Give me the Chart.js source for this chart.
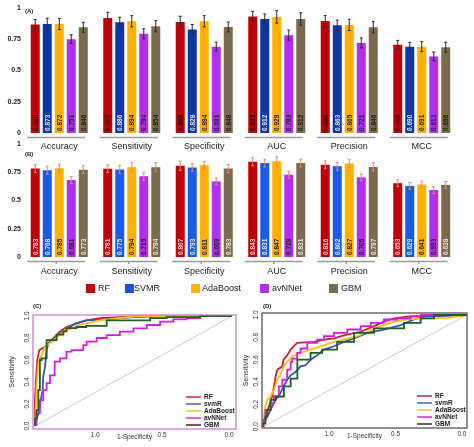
<!DOCTYPE html>
<html><head><meta charset="utf-8">
<script src="https://cdn.jsdelivr.net/npm/chart.js@4.4.0/dist/chart.umd.min.js"></script>
<style>
html,body{margin:0;padding:0;background:#fff;}
#wrap{position:relative;width:474px;height:447px;overflow:hidden;font-family:"Liberation Sans",Arial,sans-serif;color:#222;}
canvas{position:absolute;}
.pl{position:absolute;font-size:6px;font-weight:bold;color:#222;line-height:6px;}
.sq{position:absolute;width:9px;height:9px;top:284px;}
.lt{position:absolute;top:283px;font-size:9px;line-height:11px;color:#222;}
</style></head><body>
<div id="wrap">
  <canvas id="cA" width="474" height="152" style="left:0;top:0"></canvas>
  <canvas id="cB" width="474" height="143" style="left:0;top:136px"></canvas>
  <canvas id="cC" width="237" height="149" style="left:0;top:298px"></canvas>
  <canvas id="cD" width="237" height="149" style="left:237px;top:298px"></canvas>
  <div class="pl" style="left:25px;top:8px">(A)</div>
  <div class="pl" style="left:25px;top:151px">(B)</div>
  <div class="pl" style="left:33px;top:303px">(C)</div>
  <div class="pl" style="left:263px;top:303px">(D)</div>
  <div id="legend"></div>
</div>
<script>
// ---------- DATA ----------
const categories = ['Accuracy','Sensitivity','Specificity','AUC','Precision','MCC'];
const models = ['RF','SVMR','AdaBoost','avNNet','GBM'];
const barYTicks = [0, 0.25, 0.5, 0.75, 1];
const barYTickLabels = ['0', '0.25', '0.5', '0.75', '1'];

// Panel A values
const A_RF       = [0.868, 0.921, 0.889, 0.933, 0.896, 0.706];
const A_SVMR     = [0.873, 0.886, 0.828, 0.912, 0.863, 0.690];
const A_AdaBoost = [0.872, 0.894, 0.894, 0.929, 0.865, 0.691];
const A_avNNet   = [0.751, 0.794, 0.691, 0.783, 0.721, 0.613];
const A_GBM      = [0.846, 0.854, 0.848, 0.912, 0.846, 0.686];
// Panel A error bars
const A_RF_err       = [0.040, 0.045, 0.045, 0.040, 0.045, 0.035];
const A_SVMR_err     = [0.045, 0.040, 0.040, 0.040, 0.040, 0.035];
const A_AdaBoost_err = [0.045, 0.045, 0.045, 0.050, 0.045, 0.040];
const A_avNNet_err   = [0.035, 0.040, 0.035, 0.040, 0.040, 0.035];
const A_GBM_err      = [0.040, 0.045, 0.040, 0.050, 0.045, 0.040];

// Panel B values
const B_RF       = [0.783, 0.781, 0.807, 0.843, 0.816, 0.653];
const B_SVMR     = [0.768, 0.775, 0.793, 0.831, 0.802, 0.629];
const B_AdaBoost = [0.785, 0.794, 0.811, 0.847, 0.827, 0.641];
const B_avNNet   = [0.681, 0.715, 0.669, 0.728, 0.705, 0.593];
const B_GBM      = [0.773, 0.794, 0.783, 0.831, 0.797, 0.638];
// Panel B error bars
const B_RF_err       = [0.035, 0.035, 0.040, 0.035, 0.035, 0.030];
const B_SVMR_err     = [0.035, 0.035, 0.035, 0.035, 0.035, 0.030];
const B_AdaBoost_err = [0.035, 0.040, 0.035, 0.040, 0.035, 0.030];
const B_avNNet_err   = [0.030, 0.035, 0.030, 0.030, 0.030, 0.030];
const B_GBM_err      = [0.035, 0.040, 0.035, 0.035, 0.035, 0.030];

// ROC curves: [1-specificity, sensitivity]
const rocLabels = ['RF','svmR','AdaBoost','avNNet','GBM'];
const rocXTicks = [0, 0.5, 1.0];
const rocYTicks = [0, 0.2, 0.4, 0.6, 0.8, 1.0];

const C_RF = [[0,0],[0,0.236],[0.005,0.418],[0.012,0.60],[0.022,0.69],[0.051,0.72],[0.076,0.77],[0.10,0.81],[0.127,0.86],[0.16,0.90],[0.21,0.93],[0.26,0.96],[0.33,0.98],[0.55,1.0],[1,1]];
const C_svmR = [[0,0],[0.012,0.085],[0.022,0.145],[0.029,0.236],[0.039,0.327],[0.042,0.45],[0.051,0.54],[0.059,0.69],[0.068,0.75],[0.10,0.80],[0.127,0.84],[0.16,0.87],[0.20,0.93],[0.26,0.96],[0.36,0.97],[0.50,0.99],[0.67,1.0],[1,1]];
const C_AdaBoost = [[0,0],[0.008,0.36],[0.017,0.58],[0.034,0.645],[0.051,0.72],[0.093,0.78],[0.127,0.83],[0.16,0.87],[0.228,0.92],[0.33,0.96],[0.52,1.0],[1,1]];
const C_avNNet = [[0,0],[0.008,0.01],[0.025,0.115],[0.042,0.236],[0.059,0.327],[0.076,0.39],[0.10,0.46],[0.127,0.585],[0.16,0.615],[0.186,0.676],[0.245,0.69],[0.262,0.736],[0.313,0.767],[0.364,0.80],[0.431,0.827],[0.50,0.858],[0.567,0.888],[0.635,0.918],[0.702,0.948],[0.77,0.97],[0.838,0.98],[0.838,1.0],[1,1]];
const C_GBM = [[0,0],[0.008,0.07],[0.017,0.145],[0.025,0.327],[0.034,0.60],[0.059,0.615],[0.059,0.75],[0.11,0.78],[0.144,0.83],[0.16,0.86],[0.21,0.89],[0.26,0.90],[0.364,0.91],[0.364,0.95],[0.584,0.96],[0.668,0.98],[0.838,0.99],[1,1]];

const D_RF = [[0,0],[0.011,0.09],[0.028,0.18],[0.044,0.27],[0.053,0.36],[0.061,0.45],[0.069,0.51],[0.094,0.54],[0.10,0.60],[0.118,0.64],[0.135,0.69],[0.15,0.72],[0.167,0.75],[0.25,0.76],[0.30,0.78],[0.35,0.79],[0.40,0.82],[0.48,0.85],[0.545,0.90],[0.594,0.94],[0.644,0.97],[0.71,0.985],[0.84,0.99],[1,1]];
const D_svmR = [[0,0],[0.011,0.06],[0.028,0.12],[0.044,0.18],[0.061,0.24],[0.085,0.30],[0.10,0.36],[0.118,0.42],[0.135,0.46],[0.159,0.49],[0.184,0.54],[0.209,0.55],[0.233,0.60],[0.266,0.64],[0.299,0.69],[0.348,0.72],[0.397,0.76],[0.447,0.79],[0.512,0.84],[0.594,0.87],[0.677,0.91],[0.742,0.96],[0.808,0.99],[1,1]];
const D_AdaBoost = [[0,0],[0.003,0.09],[0.011,0.19],[0.02,0.24],[0.036,0.27],[0.053,0.33],[0.069,0.42],[0.085,0.46],[0.10,0.54],[0.118,0.58],[0.143,0.63],[0.184,0.66],[0.233,0.69],[0.283,0.72],[0.332,0.75],[0.397,0.78],[0.463,0.81],[0.512,0.85],[0.578,0.90],[0.644,0.94],[0.71,0.96],[0.81,0.97],[0.91,0.975],[1,1]];
const D_avNNet = [[0,0],[0.011,0.06],[0.036,0.15],[0.053,0.21],[0.077,0.27],[0.094,0.36],[0.118,0.42],[0.135,0.51],[0.143,0.58],[0.167,0.61],[0.184,0.66],[0.217,0.70],[0.266,0.75],[0.299,0.78],[0.348,0.81],[0.414,0.84],[0.48,0.87],[0.529,0.90],[0.594,0.93],[0.66,0.96],[0.726,0.97],[0.775,0.99],[1,1]];
const D_GBM = [[0,0],[0.011,0.03],[0.02,0.09],[0.036,0.15],[0.061,0.24],[0.069,0.27],[0.102,0.27],[0.118,0.36],[0.135,0.36],[0.143,0.43],[0.168,0.43],[0.176,0.60],[0.233,0.60],[0.233,0.66],[0.29,0.66],[0.29,0.69],[0.364,0.69],[0.364,0.76],[0.447,0.76],[0.447,0.84],[0.545,0.84],[0.545,0.88],[0.693,0.88],[0.693,0.93],[0.775,0.93],[0.775,0.97],[0.841,0.97],[0.841,0.99],[1,1]];

// ---------- STYLE ----------
const FONT = '"Liberation Sans", Arial, sans-serif';
const colorsA = ['#c00008','#0f36a8','#ffb000','#b22ef0','#7b6a50'];
const colorsB = ['#c00008','#1a5ae8','#ffb000','#b22ef0','#7b6a50'];
const labelColA = ['#2a0000','#dde6ff','#222','#222','#1e1a10'];
const labelColB = ['#ffd6d6','#e4eeff','#222','#222','#efe6d6'];
const legendColors = ['#c00010','#1a4fe0','#ffb300','#b030f0','#7a6a4e'];
const rocColors = ['#cc1f33','#3552bf','#ffbf10','#d41fe0','#1f5f1f'];
const rocLegendColors = ['#c0305a','#5a6ab0','#f8c840','#d040d0','#5a3020'];

// ---------- BAR PANELS ----------
const barDecor = {
  id: 'barDecor',
  afterDatasetsDraw(chart, args, opts) {
    const {ctx, chartArea} = chart;
    const ys = chart.scales.y, xs = chart.scales.x;
    chart.data.datasets.forEach((ds, di) => {
      const meta = chart.getDatasetMeta(di);
      meta.data.forEach((bar, i) => {
        const v = ds.data[i], e = ds.errors[i];
        const yT = ys.getPixelForValue(v + e), yB = ys.getPixelForValue(v - e);
        ctx.save();
        ctx.strokeStyle = opts.errColor; ctx.lineWidth = 1;
        ctx.beginPath();
        ctx.moveTo(bar.x, yT); ctx.lineTo(bar.x, yB);
        ctx.moveTo(bar.x - 1.5, yT); ctx.lineTo(bar.x + 1.5, yT);
        ctx.moveTo(bar.x - 1.5, yB); ctx.lineTo(bar.x + 1.5, yB);
        ctx.stroke();
        ctx.translate(bar.x, chartArea.bottom - 2);
        ctx.rotate(-Math.PI / 2);
        ctx.font = 'bold 6.5px ' + FONT;
        ctx.fillStyle = opts.labelColors[di];
        ctx.textAlign = 'left'; ctx.textBaseline = 'middle';
        ctx.fillText(v.toFixed(3), 0, 0.5);
        ctx.restore();
      });
    });
    ctx.save();
    ctx.strokeStyle = '#9a9a9a'; ctx.lineWidth = 1.5;
    categories.forEach((c, i) => {
      const cx = xs.getPixelForValue(i);
      const y = chartArea.bottom + 4.5;
      ctx.beginPath(); ctx.moveTo(cx - 32, y); ctx.lineTo(cx + 26, y); ctx.stroke();
      if (opts.centerTick) {
        ctx.beginPath(); ctx.moveTo(cx - 3, y); ctx.lineTo(cx - 3, y + 2.5); ctx.stroke();
      }
    });
    ctx.restore();
  }
};

function barChart(id, values, errors, colors, labelColors, errColor, xHeight, labelPad, centerTick) {
  return new Chart(document.getElementById(id), {
    type: 'bar',
    data: {
      labels: categories,
      datasets: models.map((m, i) => ({
        label: m, data: values[i], errors: errors[i], backgroundColor: colors[i],
        borderWidth: 0, barPercentage: 0.75, categoryPercentage: 0.828
      }))
    },
    options: {
      responsive: false, animation: false, devicePixelRatio: 1,
      layout: {padding: {top: 8, right: 16, left: 0, bottom: 0}},
      plugins: {legend: {display: false}, tooltip: {enabled: false},
        barDecor: {errColor, labelColors, centerTick}},
      scales: {
        x: {grid: {display: false, drawTicks: false}, border: {display: false},
            ticks: {color: '#222', font: {size: 9, family: FONT}, padding: labelPad, maxRotation: 0, autoSkip: false},
            afterFit: s => { s.height = xHeight; }},
        y: {min: 0, max: 1,
            afterBuildTicks: s => { s.ticks = barYTicks.map(v => ({value: v})); },
            grid: {display: false, drawTicks: false}, border: {display: false},
            ticks: {color: '#222', font: {size: 7, weight: 'bold', family: FONT}, padding: 2, autoSkip: false,
                    callback: (v, i) => barYTickLabels[barYTicks.indexOf(v)]},
            afterFit: s => { s.width = 23; }}
      }
    },
    plugins: [barDecor]
  });
}

barChart('cA', [A_RF, A_SVMR, A_AdaBoost, A_avNNet, A_GBM],
  [A_RF_err, A_SVMR_err, A_AdaBoost_err, A_avNNet_err, A_GBM_err],
  colorsA, labelColA, '#2a2a2a', 19, 8, false);
barChart('cB', [B_RF, B_SVMR, B_AdaBoost, B_avNNet, B_GBM],
  [B_RF_err, B_SVMR_err, B_AdaBoost_err, B_avNNet_err, B_GBM_err],
  colorsB, labelColB, '#e48a66', 22, 9, true);

// ---------- LEGEND ----------
const legendPos = [[86, 98], [125, 134], [191, 202], [260, 272], [329, 341]];
const lg = document.getElementById('legend');
models.forEach((m, i) => {
  const sq = document.createElement('div');
  sq.className = 'sq'; sq.style.left = legendPos[i][0] + 'px'; sq.style.background = legendColors[i];
  lg.appendChild(sq);
  const t = document.createElement('div');
  t.className = 'lt'; t.style.left = legendPos[i][1] + 'px'; t.textContent = m;
  lg.appendChild(t);
});

// ---------- ROC PANELS ----------
const rocDecor = {
  id: 'rocDecor',
  afterDatasetsDraw(chart, args, opts) {
    const {ctx, chartArea: a} = chart;
    const ys = chart.scales.y;
    ctx.save();
    ctx.font = '6.5px ' + FONT; ctx.fillStyle = '#333';
    rocYTicks.forEach(v => {
      const y = ys.getPixelForValue(v);
      ctx.save(); ctx.translate(a.left - 2.5, y); ctx.rotate(-Math.PI / 2);
      ctx.textAlign = 'center'; ctx.textBaseline = 'bottom';
      ctx.fillText(v.toFixed(1), 0, 0);
      ctx.restore();
    });
    ctx.font = 'bold 6.5px ' + FONT; ctx.textBaseline = 'middle'; ctx.textAlign = 'left';
    rocLabels.forEach((l, i) => {
      const y = a.bottom - 32 + i * 7;
      ctx.strokeStyle = rocLegendColors[i]; ctx.lineWidth = 1.6;
      ctx.beginPath(); ctx.moveTo(a.right - 50, y); ctx.lineTo(a.right - 35, y); ctx.stroke();
      ctx.fillStyle = '#222';
      ctx.fillText(l, a.right - 32, y + 0.5);
    });
    ctx.strokeStyle = opts.boxColor; ctx.lineWidth = 1.3;
    ctx.strokeRect(a.left, a.top, a.right - a.left, a.bottom - a.top);
    ctx.restore();
  }
};

function rocChart(id, curves, c) {
  const ds = curves.map((pts, i) => ({
    label: rocLabels[i], data: pts, borderColor: rocColors[i], borderWidth: 1.8,
    pointRadius: 0, fill: false, tension: 0, stepped: (i === 4 || i === 3) ? 'after' : false,
    order: 5 - i, xAxisID: 'x', yAxisID: 'y'
  }));
  ds.push({label: 'ref', data: [[0, 0], [1, 1]], borderColor: '#c8c8c8', borderWidth: 1,
    pointRadius: 0, order: 10, xAxisID: 'x', yAxisID: 'y'});
  return new Chart(document.getElementById(id), {
    type: 'line',
    data: {datasets: ds},
    options: {
      responsive: false, animation: false, devicePixelRatio: 1,
      layout: {padding: {top: c.top, right: c.right, left: 0, bottom: c.bottom}},
      plugins: {legend: {display: false}, tooltip: {enabled: false}, rocDecor: {boxColor: c.box}},
      scales: {
        x: {type: 'linear', min: c.xmin, max: c.xmax, display: false},
        xs: {type: 'linear', position: 'bottom', reverse: true, min: c.smin, max: c.smax,
             afterBuildTicks: s => { s.ticks = rocXTicks.map(v => ({value: v})); },
             grid: {display: false, drawTicks: false}, border: {display: false},
             ticks: {color: '#333', font: {size: 6.5, family: FONT}, padding: 2, maxRotation: 0, autoSkip: false,
                     callback: v => Number(v).toFixed(1)},
             title: {display: true, text: '1-Specificity', color: '#333', font: {size: 6.5, family: FONT}, padding: 0},
             afterFit: s => { s.height = 12; }},
        y: {type: 'linear', min: c.ymin, max: c.ymax,
            grid: {display: false, drawTicks: false}, border: {display: false},
            ticks: {display: false},
            title: {display: true, text: 'Sensitivity', color: '#333', font: {size: 7, family: FONT}, padding: {top: c.ytp, bottom: 0}},
            afterFit: s => { s.width = c.yw; }}
      }
    },
    plugins: [rocDecor]
  });
}

rocChart('cC', [C_RF, C_svmR, C_AdaBoost, C_avNNet, C_GBM],
  {top: 17, right: 1, bottom: 6, xmin: -0.01, xmax: 1.02, smin: -0.052, smax: 1.463,
   ymin: -0.027, ymax: 1.009, yw: 33, ytp: 8, box: '#c77dcc'});
rocChart('cD', [D_RF, D_svmR, D_AdaBoost, D_avNNet, D_GBM],
  {top: 15, right: 7, bottom: 7, xmin: -0.006, xmax: 1.003, smin: -0.038, smax: 1.504,
   ymin: -0.012, ymax: 1.018, yw: 25, ytp: 5, box: '#555555'});
</script>
</body></html>
